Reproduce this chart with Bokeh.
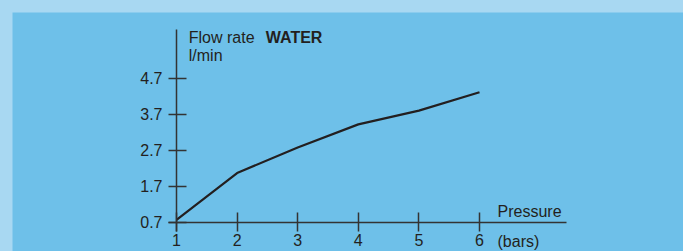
from bokeh.plotting import figure
from bokeh.models import FixedTicker, Label, Range1d
from bokeh.embed import file_html
from bokeh.resources import INLINE

# Data
pressure = [1, 2, 3, 4, 5, 6]
flow_rate = [0.77, 2.07, 2.78, 3.42, 3.80, 4.31]
x_ticks = [1, 2, 3, 4, 5, 6]
y_ticks = [0.7, 1.7, 2.7, 3.7, 4.7]

INNER = "#6ec0e9"
OUTER = "#a8d8f2"
INK = "#231f20"
FONT = "Liberation Sans"

p = figure(width=671, height=239, output_backend="svg", toolbar_location=None,
           x_range=Range1d(-1.706, 9.366), y_range=Range1d(-0.104, 6.520),
           min_border=0)
p.background_fill_color = INNER
p.border_fill_color = INNER
p.outline_line_color = None
p.grid.visible = False

p.line(pressure, flow_rate, line_color=INK, line_width=2.2)

xa = p.xaxis[0]
xa.fixed_location = 0.7
xa.bounds = (0.868, 7.436)
xa.ticker = FixedTicker(ticks=x_ticks)
xa.minor_tick_line_color = None
xa.major_tick_in = 10
xa.major_tick_out = 9
xa.major_label_standoff = 3
ya = p.yaxis[0]
ya.fixed_location = 1
ya.bounds = (0.45, 6.046)
ya.ticker = FixedTicker(ticks=y_ticks)
ya.minor_tick_line_color = None
ya.major_tick_in = 10
ya.major_tick_out = 8
ya.major_label_standoff = 6
for ax in (xa, ya):
    ax.axis_line_color = "#333333"
    ax.axis_line_width = 1.5
    ax.major_tick_line_color = "#333333"
    ax.major_tick_line_width = 1.5
    ax.major_label_text_font = FONT
    ax.major_label_text_font_size = "16px"
    ax.major_label_text_color = INK

def lab(text, x, y, bold=False, x_offset=0):
    p.add_layout(Label(x=x, y=y, text=text, x_offset=x_offset, y_offset=4,
                       text_font=FONT, text_font_size="16px",
                       text_color=INK, text_baseline="alphabetic",
                       text_font_style="bold" if bold else "normal"))

lab("Flow rate", 1.203, 5.725)
lab("WATER", 1.203, 5.725, bold=True, x_offset=77)
lab("l/min", 1.203, 5.218)
lab("Pressure", 6.297, 0.894)
lab("(bars)", 6.297, 0.0625)

template = """{% block preamble %}<style>
html, body { background: """ + OUTER + """ !important; overflow: hidden !important; }
body { margin: 12px 0 0 12px !important; padding: 0 !important; }
</style>{% endblock %}"""

open("out.html", "w").write(file_html(p, INLINE, template=template))
